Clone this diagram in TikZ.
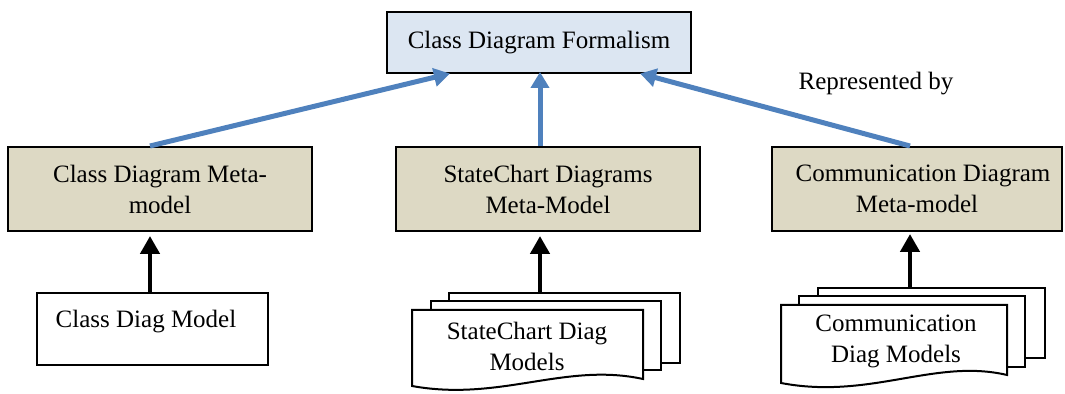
\documentclass[tikz,border=0pt]{standalone}
\usepackage{fontspec}
\setmainfont{Liberation Serif}
\usetikzlibrary{arrows.meta}
\definecolor{formfill}{HTML}{DCE6F2}
\definecolor{metafill}{HTML}{DDD9C4}
\definecolor{linkblue}{HTML}{4F81BD}
\tikzset{
  box/.style={draw=black, line width=1pt, inner sep=0pt, align=center,
    font=\fontsize{12.5}{15.5}\selectfont},
  formbox/.style={box, fill=formfill},
  metabox/.style={box, fill=metafill},
  sheet/.style={draw=black, line width=1pt, fill=white},
  lbl/.style={inner sep=0pt, align=center, font=\fontsize{12.5}{15.5}\selectfont},
  represents/.style={draw=linkblue, line width=2.5pt,
    -{Triangle[width=9pt,length=8pt]}, shorten >=-1pt},
  instanceof/.style={draw=black, line width=2.4pt,
    -{Triangle[width=9.5pt,length=9pt]}},
}
\begin{document}
\begin{tikzpicture}[x=0.5pt, y=-0.5pt]
\useasboundingbox (0,0) rectangle (1065,394);

% top level: the formalism
\node[formbox, minimum width=152pt, minimum height=30.5pt] (form) at (539,42.5)
  {Class Diagram Formalism};

% meta-models
\node[metabox, minimum width=152pt, minimum height=42pt] (cmeta) at (160,189)
  {Class Diagram Meta-\\model};
\node[metabox, minimum width=152pt, minimum height=42pt] (smeta) at (548,189)
  {StateChart Diagrams\\Meta-Model};
\node[metabox, minimum width=145pt, minimum height=42pt] (mmeta) at (917,189)
  {\hspace*{6pt}Communication Diagram\\Meta-model};

\node[lbl] (rep) at (876,84) {Represented by};

% single model
\node[sheet, minimum width=115.5pt, minimum height=36pt, inner sep=0pt] (cmodel) at (152.5,329) {};
\node[lbl] (cmodeltext) at (146,322) {Class Diag Model};

% stacked statechart models
\node[sheet, minimum width=115.5pt, minimum height=35pt, inner sep=0pt, anchor=north west] (sback) at (448,292) {};
\draw[sheet] (431,301) rectangle (661,370);
\draw[sheet] (412,310) -- (643,310) -- (643,379)
  .. controls (565,362) and (500,402) .. (412,386) -- cycle;
\node[lbl] (stext) at (527,346) {StateChart Diag\\Models};

% stacked communication models
\node[sheet, minimum width=113.5pt, minimum height=35pt, inner sep=0pt, anchor=north west] (mback) at (817,287) {};
\draw[sheet] (799,296) rectangle (1025,367);
\draw[sheet] (781,305) -- (1007,305) -- (1007,375)
  .. controls (935,358) and (870,400) .. (781,383) -- cycle;
\node[lbl] (mtext) at (896,341) {Communication\\Diag Models};

% "represented by" links
\draw[represents] (cmeta.north -| 150,0) -- (form.south -| 448,0);
\draw[represents] (smeta.north -| 540,0) -- (form.south -| 540,0);
\draw[represents] (mmeta.north -| 910,0) -- (form.south -| 642,0);

% model-to-meta-model links
\draw[instanceof] (cmodel.north -| 150,0) -- ([yshift=-2pt]cmeta.south -| 150,0);
\draw[instanceof] (sback.north -| 540,0) -- ([yshift=-2pt]smeta.south -| 540,0);
\draw[instanceof] (mback.north -| 910,0) -- ([yshift=-1pt]mmeta.south -| 910,0);
\end{tikzpicture}
\end{document}
